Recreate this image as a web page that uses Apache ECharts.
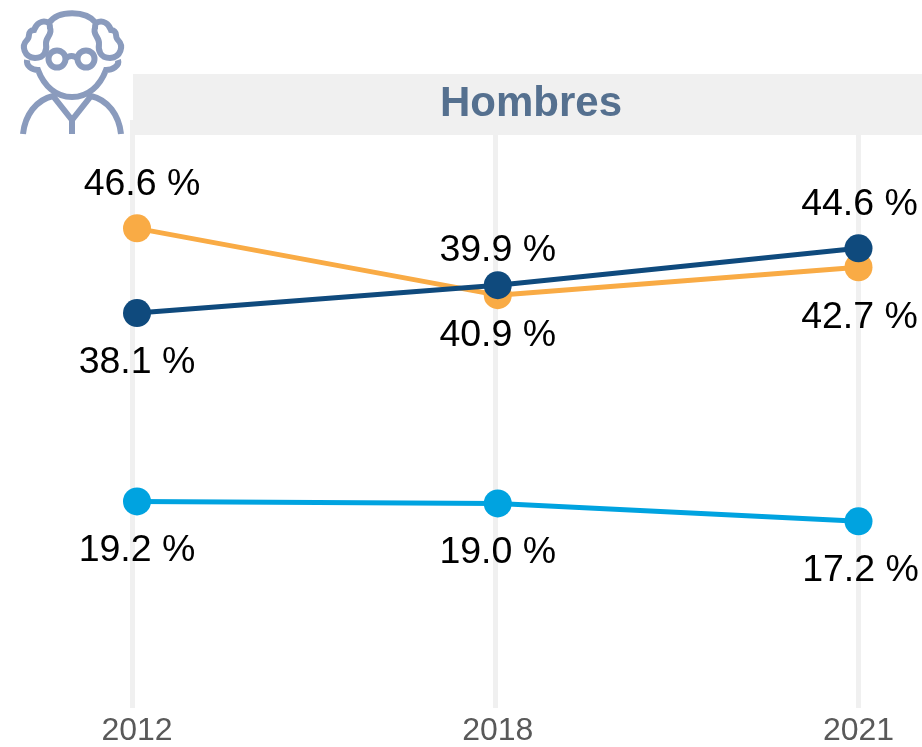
<!DOCTYPE html>
<html>
<head>
<meta charset="utf-8">
<style>html,body{margin:0;padding:0;background:#fff}#c{width:922px;height:747px}</style>
<script src="https://cdn.jsdelivr.net/npm/echarts@6/dist/echarts.min.js"></script>
</head>
<body>
<div id="c"></div>
<script>
const categories = ['2012', '2018', '2021'];
const panelTitle = 'Hombres';
const orangeValues = [46.6, 39.9, 42.7];
const navyValues = [38.1, 40.9, 44.6];
const cyanValues = [19.2, 19.0, 17.2];

const FONT = '"Liberation Sans", Arial, sans-serif';
const chart = echarts.init(document.getElementById('c'), null, {renderer: 'canvas'});

function labelled(values, places, shifts, below) {
  return values.map((v, i) => ({
    value: v,
    label: {position: places[i], distance: places[i] === 'top' ? 11 : below, offset: [shifts[i], 0]}
  }));
}
function lineSeries(name, color, data, z) {
  return {
    name, type: 'line', xAxisIndex: 1, yAxisIndex: 1, data, z,
    symbol: 'circle', symbolSize: 28, showSymbol: true, animation: false,
    lineStyle: {color, width: 5}, itemStyle: {color},
    label: {show: true, color: '#000', fontFamily: FONT, fontSize: 37.5,
      formatter: p => p.value.toFixed(1) + ' %'},
    emphasis: {disabled: true}
  };
}

const hairAndFace =
  'M49 23 C58 10 86 10 96 23 ' +
  'M49 23 C42 19 36 24 34 30 C26 31 31 37 27 40 C21 46 24 57 35 58 C45 58 47 50 46 44 C45 38 53 34 50 28 C50 25 49 23 49 23 ' +
  'M96 23 C103 19 109 24 111 30 C119 31 114 37 118 40 C124 46 121 57 110 58 C100 58 98 50 99 44 C100 38 92 34 95 28 C95 25 96 23 96 23 ' +
  'M27 60 C26 66 32 70 38 70 C44 86 56 97 72 97 C88 97 100 86 106 70 C112 70 120 66 118 60 ' +
  'M65 59 C69 55 74 55 78 59 ' +
  'M23 134 C25 115 36 100 53 96 L72 120 L91 96 C108 100 119 115 121 134 ' +
  'M72 120 L72 134';
echarts.graphic.registerShape('elderIcon', echarts.graphic.extendPath(hairAndFace));

chart.setOption({
  animation: false,
  backgroundColor: '#fff',
  grid: [
    {left: 132.5, right: 63.5, top: 120, bottom: 39},
    {left: 137, right: 63.5, top: 135, bottom: 39}
  ],
  xAxis: [
    {type: 'category', gridIndex: 0, data: categories, boundaryGap: false,
      axisLine: {show: false}, axisTick: {show: false}, axisLabel: {show: false},
      splitLine: {show: true, interval: 0, lineStyle: {color: '#f0f0f0', width: 5}}},
    {type: 'category', gridIndex: 1, data: categories, boundaryGap: false,
      axisLine: {show: false}, axisTick: {show: false}, splitLine: {show: false},
      axisLabel: {color: '#595959', fontFamily: FONT, fontSize: 32, margin: 14, interval: 0, hideOverlap: false}}
  ],
  yAxis: [
    {type: 'value', gridIndex: 0, min: 0, max: 60, show: false, splitLine: {show: false}},
    {type: 'value', gridIndex: 1, min: -0.83, max: 55.97, show: false, splitLine: {show: false}}
  ],
  series: [
    lineSeries('Azul claro', '#00a3e0', labelled(cyanValues, ['bottom', 'bottom', 'bottom'], [0, 0, 2], 16), 3),
    lineSeries('Naranja', '#f9ab45', labelled(orangeValues, ['top', 'top', 'bottom'], [5, 0, 1], 17), 4),
    lineSeries('Azul oscuro', '#0f4a7d', labelled(navyValues, ['bottom', 'bottom', 'top'], [0, 0, 1], 17), 5)
  ],
  graphic: [
    {type: 'rect', z: 1, silent: true, shape: {x: 133, y: 74, width: 789, height: 61}, style: {fill: '#f0f0f0'}},
    {type: 'text', z: 2, silent: true, x: 531, y: 104,
      style: {text: panelTitle, fill: '#55708f', font: 'bold 42px ' + FONT, textAlign: 'center', textVerticalAlign: 'middle'}},
    {type: 'elderIcon', z: 3, silent: true,
      style: {fill: null, stroke: '#8a9bbd', lineWidth: 6}},
    {type: 'circle', z: 3, silent: true, shape: {cx: 57, cy: 59, r: 8.5}, style: {fill: null, stroke: '#8a9bbd', lineWidth: 6}},
    {type: 'circle', z: 3, silent: true, shape: {cx: 86, cy: 59, r: 8.5}, style: {fill: null, stroke: '#8a9bbd', lineWidth: 6}}
  ]
});
</script>
</body>
</html>
